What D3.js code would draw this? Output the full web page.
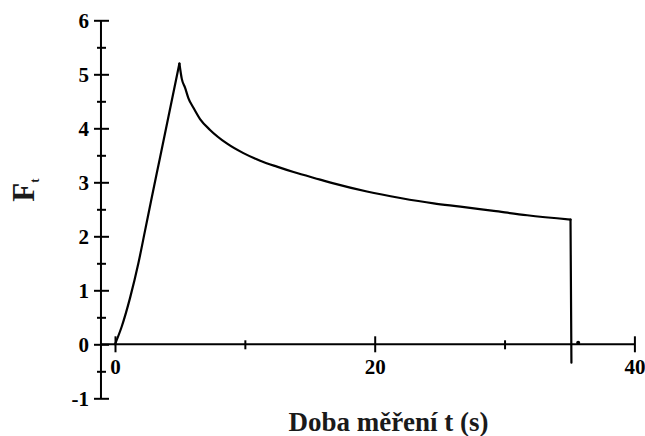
<!DOCTYPE html>
<html><head><meta charset="utf-8">
<script src="https://cdn.jsdelivr.net/npm/d3@7"></script>
<style>body{margin:0;background:#fff} svg{display:block}</style>
</head><body><svg id="c" width="645" height="436"></svg>
<script>
// ---- data ----
const timeValues  = [0, 0.52, 1.16, 1.80, 2.31, 2.78, 3.47, 4.96, 5.14, 5.40, 5.65, 6.04, 6.55, 7.32, 8.61, 9.89, 11.18, 12.47, 13.75, 15.8, 16.83, 19.4, 21.97, 24.54, 26.6, 29.17, 31.74, 35.08, 35.15];
const forceValues = [0, 0.33, 0.86, 1.50, 2.10, 2.66, 3.46, 5.20, 4.92, 4.75, 4.56, 4.38, 4.17, 3.97, 3.72, 3.54, 3.40, 3.29, 3.19, 3.05, 2.98, 2.83, 2.71, 2.61, 2.55, 2.47, 2.39, 2.31, -0.34];
const tailTime  = [35.67];
const tailForce = [0.03];
const xMajorTicks = [0, 20, 40];
const xMinorTicks = [10, 30];
const yMajorTicks = [-1, 0, 1, 2, 3, 4, 5, 6];
const yMinorTicks = [-0.5, 0.5, 1.5, 2.5, 3.5, 4.5, 5.5];
const xTitle = "Doba měření t (s)";
const yTitle = "F";
const yTitleSub = "t";
const yAxisAtTime = -1.08;

// ---- drawing ----
const svg = d3.select("#c");
const font = "'Liberation Serif','Times New Roman',serif";
const x = d3.scaleLinear().domain([0, 40]).range([115, 634.4]);
const y = d3.scaleLinear().domain([-1, 6]).range([398.3, 20.3]);
const ax = x(yAxisAtTime);

function style(g, size){
  g.attr("font-family", font).attr("font-size", size).attr("font-weight", "bold");
  g.select(".domain").remove();
  g.selectAll("line").attr("stroke", "#000").attr("stroke-width", 2);
  g.selectAll("text").attr("fill", "#000");
}

// y axis
const gy = svg.append("g").attr("transform", `translate(${ax},0)`)
  .call(d3.axisLeft(y).tickValues(yMajorTicks).tickSizeInner(7).tickSizeOuter(0).tickPadding(5).tickFormat(d => String(d)));
style(gy, 21);
gy.selectAll(".tick line").attr("x1", 8);
const gym = svg.append("g").attr("transform", `translate(${ax},0)`)
  .call(d3.axisLeft(y).tickValues(yMinorTicks).tickSizeInner(4).tickSizeOuter(0).tickFormat(""));
style(gym, 21);
gym.selectAll(".tick line").attr("x1", 5);
svg.append("line").attr("x1", ax).attr("x2", ax).attr("y1", y(-1)).attr("y2", y(6))
  .attr("stroke", "#000").attr("stroke-width", 2);

// x axis
const gx = svg.append("g").attr("transform", `translate(0,${y(0)})`)
  .call(d3.axisBottom(x).tickValues(xMajorTicks).tickSizeInner(8).tickSizeOuter(0).tickPadding(7).tickFormat(d => String(d)));
style(gx, 21);
gx.selectAll(".tick line").attr("y1", -8);
const gxm = svg.append("g").attr("transform", `translate(0,${y(0)})`)
  .call(d3.axisBottom(x).tickValues(xMinorTicks).tickSizeInner(5).tickSizeOuter(0).tickFormat(""));
style(gxm, 21);
gxm.selectAll(".tick line").attr("y1", -4);
svg.append("line").attr("x1", ax).attr("x2", x(40)).attr("y1", y(0)).attr("y2", y(0))
  .attr("stroke", "#000").attr("stroke-width", 2);

// data line: rise and decay drawn as monotone pieces, drop straight
const pts = timeValues.map((t, i) => [t, forceValues[i]]);
const peak = d3.maxIndex(forceValues);
const n = pts.length;
const smooth = d3.line().x(d => x(d[0])).y(d => y(d[1])).curve(d3.curveMonotoneX);
const straight = d3.line().x(d => x(d[0])).y(d => y(d[1]));
[[pts.slice(0, peak + 1), smooth], [pts.slice(peak, n - 1), smooth], [pts.slice(n - 2), straight]].forEach(([seg, gen]) => {
  svg.append("path").datum(seg).attr("d", gen)
    .attr("fill", "none").attr("stroke", "#000").attr("stroke-width", 2.2)
    .attr("stroke-linejoin", "round").attr("stroke-linecap", "round");
});
svg.selectAll("circle.tail").data(tailTime).enter().append("circle")
  .attr("cx", (d) => x(d)).attr("cy", (d, i) => y(tailForce[i])).attr("r", 2).attr("fill", "#000");

// titles
svg.append("text").attr("x", 388.5).attr("y", 431).attr("text-anchor", "middle")
  .attr("font-family", font).attr("font-size", 27).attr("font-weight", "bold").attr("fill", "#1a1a1a")
  .text(xTitle);
const yt = svg.append("text").attr("transform", "translate(34,190) rotate(-90)").attr("text-anchor", "middle")
  .attr("font-family", font).attr("font-weight", "bold").attr("fill", "#1a1a1a");
yt.append("tspan").attr("font-size", 31).text(yTitle);
yt.append("tspan").attr("font-size", 13).attr("dy", 5).text(yTitleSub);
</script></body></html>
